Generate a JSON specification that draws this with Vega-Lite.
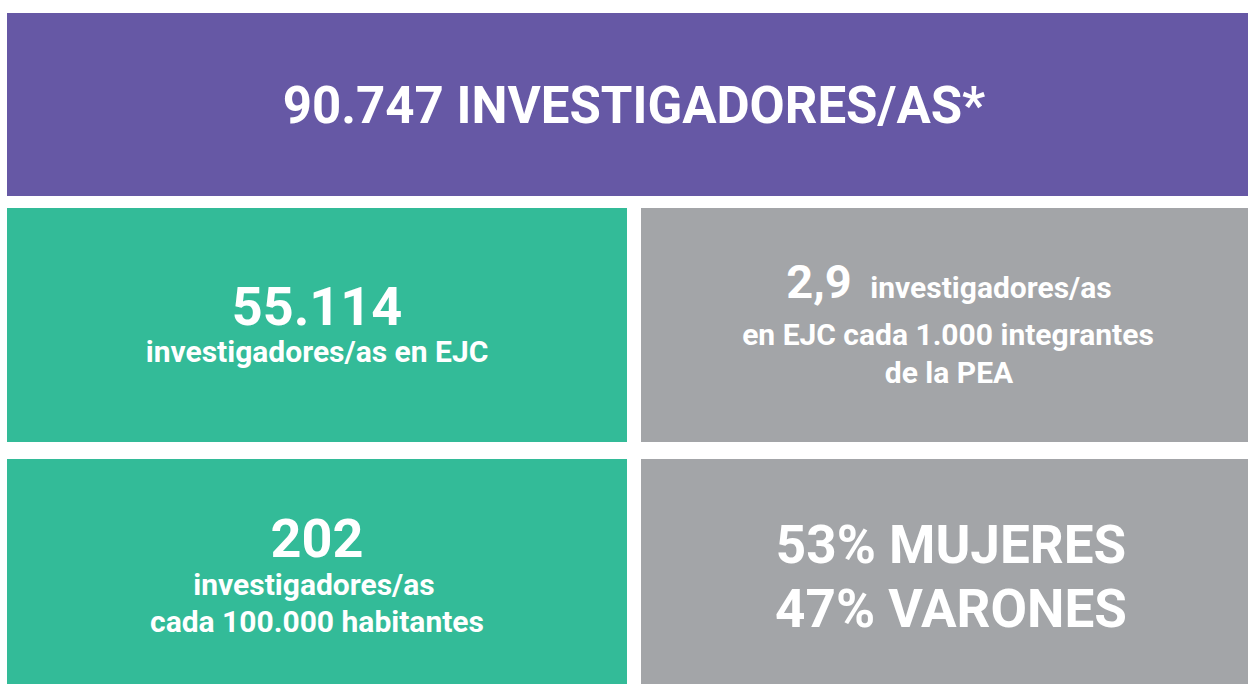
{
  "$schema": "https://vega.github.io/schema/vega-lite/v6.json",
  "width": 1248,
  "height": 684,
  "autosize": {"type": "fit", "contains": "padding"},
  "padding": 0,
  "background": "#ffffff",
  "config": {"view": {"stroke": null}},
  "datasets": {
    "boxes": [
      {"box": "total", "x0": 7, "x1": 1248, "y0": 13, "y1": 196, "tone": "purple"},
      {"box": "ejc", "x0": 7, "x1": 627, "y0": 208, "y1": 442, "tone": "green"},
      {"box": "pea", "x0": 641, "x1": 1248, "y0": 208, "y1": 442, "tone": "gray"},
      {"box": "habitantes", "x0": 7, "x1": 627, "y0": 459, "y1": 684, "tone": "green"},
      {"box": "genero", "x0": 641, "x1": 1248, "y0": 459, "y1": 684, "tone": "gray"}
    ],
    "labels": [
      {"text": "90.747 INVESTIGADORES/AS*", "x": 634, "y": 123, "kind": "titulo"},
      {"text": "55.114", "x": 317, "y": 325, "kind": "cifra"},
      {"text": "investigadores/as en EJC", "x": 317, "y": 362, "kind": "texto"},
      {"text": "2,9", "x": 819, "y": 298, "kind": "cifra_media"},
      {"text": "investigadores/as", "x": 991, "y": 298, "kind": "texto"},
      {"text": "en EJC cada 1.000 integrantes", "x": 948, "y": 345, "kind": "texto"},
      {"text": "de la PEA", "x": 949, "y": 383, "kind": "texto"},
      {"text": "202", "x": 317, "y": 557, "kind": "cifra"},
      {"text": "investigadores/as", "x": 314, "y": 595, "kind": "texto"},
      {"text": "cada 100.000 habitantes", "x": 317, "y": 632, "kind": "texto"},
      {"text": "53% MUJERES", "x": 951, "y": 563, "kind": "genero"},
      {"text": "47% VARONES", "x": 951, "y": 627, "kind": "genero"}
    ]
  },
  "layer": [
    {
      "data": {"name": "boxes"},
      "mark": {"type": "rect"},
      "encoding": {
        "x": {"field": "x0", "type": "quantitative", "scale": {"domain": [0, 1248], "nice": false, "zero": false}, "axis": null},
        "x2": {"field": "x1"},
        "y": {"field": "y0", "type": "quantitative", "scale": {"domain": [0, 684], "nice": false, "zero": false, "reverse": true}, "axis": null},
        "y2": {"field": "y1"},
        "color": {"field": "tone", "type": "nominal", "scale": {"domain": ["purple", "green", "gray"], "range": ["#6658A5", "#33BB98", "#A3A5A8"]}, "legend": null}
      }
    },
    {
      "data": {"name": "labels"},
      "transform": [{"filter": "datum.kind === 'titulo'"}],
      "mark": {"type": "text", "font": "Roboto", "fontWeight": "bold", "fontSize": 51, "align": "center", "baseline": "alphabetic", "color": "#ffffff"},
      "encoding": {
        "x": {"field": "x", "type": "quantitative"},
        "y": {"field": "y", "type": "quantitative"},
        "text": {"field": "text"}
      }
    },
    {
      "data": {"name": "labels"},
      "transform": [{"filter": "datum.kind === 'cifra'"}],
      "mark": {"type": "text", "font": "Roboto", "fontWeight": "bold", "fontSize": 54, "align": "center", "baseline": "alphabetic", "color": "#ffffff"},
      "encoding": {
        "x": {"field": "x", "type": "quantitative"},
        "y": {"field": "y", "type": "quantitative"},
        "text": {"field": "text"}
      }
    },
    {
      "data": {"name": "labels"},
      "transform": [{"filter": "datum.kind === 'cifra_media'"}],
      "mark": {"type": "text", "font": "Roboto", "fontWeight": "bold", "fontSize": 47, "align": "center", "baseline": "alphabetic", "color": "#ffffff"},
      "encoding": {
        "x": {"field": "x", "type": "quantitative"},
        "y": {"field": "y", "type": "quantitative"},
        "text": {"field": "text"}
      }
    },
    {
      "data": {"name": "labels"},
      "transform": [{"filter": "datum.kind === 'texto'"}],
      "mark": {"type": "text", "font": "Roboto", "fontWeight": "bold", "fontSize": 30, "align": "center", "baseline": "alphabetic", "color": "#ffffff"},
      "encoding": {
        "x": {"field": "x", "type": "quantitative"},
        "y": {"field": "y", "type": "quantitative"},
        "text": {"field": "text"}
      }
    },
    {
      "data": {"name": "labels"},
      "transform": [{"filter": "datum.kind === 'genero'"}],
      "mark": {"type": "text", "font": "Roboto", "fontWeight": "bold", "fontSize": 53, "align": "center", "baseline": "alphabetic", "color": "#ffffff"},
      "encoding": {
        "x": {"field": "x", "type": "quantitative"},
        "y": {"field": "y", "type": "quantitative"},
        "text": {"field": "text"}
      }
    }
  ]
}
